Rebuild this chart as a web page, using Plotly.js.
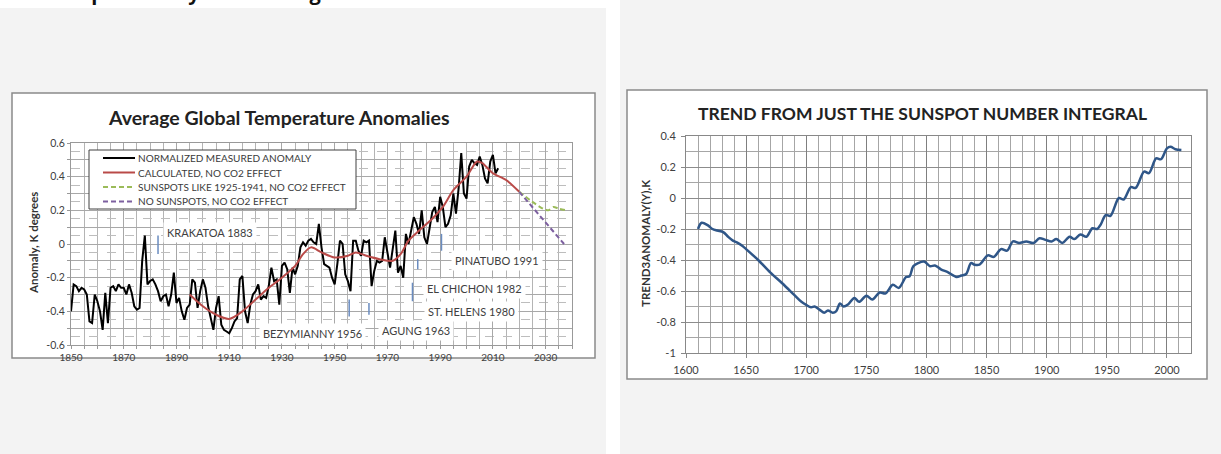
<!DOCTYPE html>
<html>
<head>
<meta charset="utf-8">
<script src="https://cdn.plot.ly/plotly-3.0.1.min.js"></script>
<style>html,body{margin:0;padding:0;background:#fff;}#chart{width:1221px;height:454px;}</style>
</head>
<body>
<div id="chart"></div>
<script>
// ---------- LEFT CHART DATA ----------
const measuredStartYear = 1850;
const measuredAnomaly = [
 -0.40,-0.24,-0.25,-0.28,-0.26,-0.27,-0.30,-0.46,-0.47,-0.30,
 -0.34,-0.40,-0.51,-0.29,-0.47,-0.26,-0.25,-0.28,-0.24,-0.26,
 -0.26,-0.30,-0.24,-0.29,-0.37,-0.39,-0.38,-0.10, 0.05,-0.24,
 -0.22,-0.21,-0.24,-0.28,-0.34,-0.31,-0.30,-0.37,-0.30,-0.17,
 -0.35,-0.32,-0.40,-0.45,-0.38,-0.36,-0.21,-0.23,-0.38,-0.28,
 -0.21,-0.26,-0.37,-0.44,-0.51,-0.38,-0.31,-0.48,-0.51,-0.52,
 -0.53,-0.50,-0.46,-0.44,-0.21,-0.19,-0.40,-0.47,-0.36,-0.30,
 -0.28,-0.24,-0.33,-0.31,-0.32,-0.25,-0.14,-0.22,-0.21,-0.36,
 -0.13,-0.11,-0.15,-0.29,-0.14,-0.18,-0.13,-0.02, 0.01,-0.01,
  0.02, 0.03, 0.01, 0.00, 0.12,-0.02,-0.12,-0.13,-0.14,-0.20,
 -0.24,-0.12, 0.02, 0.00,-0.18,-0.22,-0.28, 0.02, 0.02,-0.04,
 -0.07, 0.02, 0.01, 0.02,-0.25,-0.16,-0.10,-0.11,-0.10, 0.04,
 -0.06,-0.14,-0.03, 0.08,-0.17,-0.13,-0.20, 0.06, 0.00, 0.09,
  0.16, 0.12, 0.06, 0.20, 0.04, 0.00, 0.10, 0.19, 0.22, 0.13,
  0.28, 0.22, 0.10, 0.12, 0.17, 0.30, 0.18, 0.33, 0.54, 0.30,
  0.27, 0.46, 0.50, 0.48, 0.47, 0.52, 0.47, 0.39, 0.36, 0.49,
  0.53, 0.42, 0.45
];
const calcYears  = [1895,1900,1905,1910,1915,1920,1925,1930,1935,1938,1941,1945,1950,1955,1958,1962,1967,1972,1975,1978,1982,1987,1991,1995,2000,2004,2006,2010,2015,2020];
const calcValues = [-0.30,-0.37,-0.42,-0.445,-0.40,-0.33,-0.26,-0.20,-0.13,-0.06,-0.02,-0.05,-0.08,-0.07,-0.05,-0.07,-0.09,-0.10,-0.06,0.02,0.08,0.15,0.22,0.32,0.40,0.49,0.48,0.42,0.38,0.31];
const sunspotLikeYears  = [2020,2025,2029,2031,2033,2035,2038];
const sunspotLikeValues = [0.31,0.25,0.21,0.20,0.22,0.21,0.20];
const noSunspotYears  = [2020,2025,2030,2035,2037];
const noSunspotValues = [0.31,0.22,0.13,0.04,0.00];
const volcanoNames  = ["KRAKATOA 1883","BEZYMIANNY 1956","AGUNG 1963","ST. HELENS 1980","EL CHICHON 1982","PINATUBO 1991"];
const volcanoTickX  = [1883,1955.5,1963,1979.5,1981.5,1990.5];
const volcanoTickTop    = [0.05,-0.33,-0.35,-0.23,-0.09,0.06];
const volcanoTickBottom = [-0.06,-0.43,-0.42,-0.34,-0.15,-0.04];
const legendLabels = ["NORMALIZED MEASURED ANOMALY","CALCULATED, NO CO2 EFFECT","SUNSPOTS LIKE 1925-1941, NO CO2 EFFECT","NO SUNSPOTS, NO CO2 EFFECT"];
const leftXTicks = [1850,1870,1890,1910,1930,1950,1970,1990,2010,2030];
const leftYTickVals = [-0.6,-0.5,-0.4,-0.3,-0.2,-0.1,0,0.1,0.2,0.3,0.4,0.5,0.6];
const leftYTickText = ["-0.6","","-0.4","","-0.2","","0","","0.2","","0.4","","0.6"];

// ---------- RIGHT CHART DATA ----------
const trendYears = [1610,1613,1618,1622,1626,1631,1635,1639,1643,1647,1650,1660,1670,1680,1690,1696,1700,1704,1707,1711,1715,1718,1722,1725,1728,1731,1735,1740,1744,1750,1755,1761,1766,1772,1777,1783,1786,1789,1793,1798,1803,1807,1812,1818,1825,1829,1833,1837,1840,1844,1851,1856,1862,1867,1872,1877,1883,1889,1894,1899,1904,1908,1913,1919,1923,1928,1933,1938,1942,1945,1949,1953,1960,1964,1970,1974,1981,1985,1991,1995,2000,2003,2007,2012];
const trendValues = [-0.20,-0.16,-0.175,-0.20,-0.21,-0.22,-0.25,-0.275,-0.29,-0.31,-0.33,-0.40,-0.48,-0.55,-0.625,-0.67,-0.69,-0.705,-0.70,-0.72,-0.74,-0.725,-0.74,-0.73,-0.68,-0.70,-0.685,-0.645,-0.67,-0.63,-0.655,-0.61,-0.615,-0.56,-0.58,-0.51,-0.505,-0.44,-0.42,-0.41,-0.44,-0.435,-0.46,-0.48,-0.51,-0.50,-0.49,-0.42,-0.43,-0.43,-0.37,-0.38,-0.33,-0.34,-0.28,-0.29,-0.28,-0.29,-0.26,-0.27,-0.28,-0.265,-0.29,-0.25,-0.265,-0.235,-0.25,-0.195,-0.20,-0.17,-0.11,-0.115,0.0,-0.01,0.07,0.065,0.17,0.16,0.255,0.25,0.32,0.33,0.315,0.31];
const rightXTicks = [1600,1650,1700,1750,1800,1850,1900,1950,2000];
const rightYTickVals = [-1,-0.8,-0.6,-0.4,-0.2,0,0.2,0.4];
const rightYTickText = ["-1","-0.8","-0.6","-0.4","-0.2","0","0.2","0.4"];

// ---------- BUILD ----------
const W = 1221, H = 454;
const px = x => x / W;
const py = y => 1 - y / H;
const FONT = "Lato, 'Open Sans', sans-serif";

const measuredYears = measuredAnomaly.map((_, i) => measuredStartYear + i);

const volX = [], volY = [];
volcanoTickX.forEach((x, i) => { volX.push(x, x, null); volY.push(volcanoTickTop[i], volcanoTickBottom[i], null); });

const traces = [
  {x: volX, y: volY, mode: 'lines', line: {color: '#6a8cc0', width: 1.5}, xaxis: 'x', yaxis: 'y', hoverinfo: 'skip', showlegend: false},
  {x: measuredYears, y: measuredAnomaly, mode: 'lines', line: {color: '#000000', width: 2}, xaxis: 'x', yaxis: 'y', showlegend: false},
  {x: calcYears, y: calcValues, mode: 'lines', line: {color: '#b94a48', width: 2, shape: 'spline', smoothing: 0.8}, xaxis: 'x', yaxis: 'y', showlegend: false},
  {x: sunspotLikeYears, y: sunspotLikeValues, mode: 'lines', line: {color: '#9bbb59', width: 2, dash: '5px,3px', shape: 'spline', smoothing: 0.6}, xaxis: 'x', yaxis: 'y', showlegend: false},
  {x: noSunspotYears, y: noSunspotValues, mode: 'lines', line: {color: '#7d60a0', width: 2, dash: '5px,3px'}, xaxis: 'x', yaxis: 'y', showlegend: false},
  {x: trendYears, y: trendValues, mode: 'lines', line: {color: '#2f5688', width: 2.5, shape: 'spline', smoothing: 0.9}, xaxis: 'x2', yaxis: 'y2', showlegend: false}
];

const shapes = [
  {type: 'rect', xref: 'paper', yref: 'paper', x0: 0, x1: px(606), y0: py(454), y1: py(8), fillcolor: '#f3f3f3', line: {width: 0}, layer: 'below'},
  {type: 'rect', xref: 'paper', yref: 'paper', x0: px(620), x1: 1, y0: 0, y1: 1, fillcolor: '#f3f3f3', line: {width: 0}, layer: 'below'},
  {type: 'rect', xref: 'paper', yref: 'paper', x0: px(12), x1: px(595), y0: py(358), y1: py(93), fillcolor: '#ffffff', line: {color: '#8a8a8a', width: 1.5}, layer: 'below'},
  {type: 'rect', xref: 'paper', yref: 'paper', x0: px(627), x1: px(1207), y0: py(379), y1: py(90), fillcolor: '#ffffff', line: {color: '#8a8a8a', width: 1.5}, layer: 'below'},
  // legend box
  {type: 'rect', xref: 'paper', yref: 'paper', x0: px(89), x1: px(356), y0: py(209), y1: py(150), fillcolor: '#ffffff', line: {color: '#404040', width: 1}, layer: 'above'}
];
const legendStyles = [
  {color: '#000000', dash: 'solid'},
  {color: '#b94a48', dash: 'solid'},
  {color: '#9bbb59', dash: '5px,3px'},
  {color: '#7d60a0', dash: '5px,3px'}
];
const legendRowY = [158, 172.5, 187, 201.5];
const annotations = [];
legendLabels.forEach((lab, i) => {
  shapes.push({type: 'line', xref: 'paper', yref: 'paper', x0: px(103), x1: px(135), y0: py(legendRowY[i]), y1: py(legendRowY[i]), line: {color: legendStyles[i].color, width: 2, dash: legendStyles[i].dash}, layer: 'above'});
  annotations.push({xref: 'paper', yref: 'paper', x: px(136), y: py(legendRowY[i]), xanchor: 'left', yanchor: 'middle', text: lab, showarrow: false, font: {family: FONT, size: 10, color: '#3a3a3a'}});
});

// volcano labels
const volLabelPos = [[1902.9, 0.07],[1941.5,-0.534],[1980.8,-0.516],[2001.9,-0.40],[2003.2,-0.265],[2011.4,-0.097]];
volcanoNames.forEach((n, i) => {
  annotations.push({xref: 'x', yref: 'y', x: volLabelPos[i][0], y: volLabelPos[i][1], xanchor: 'center', yanchor: 'middle', text: n, showarrow: false, bgcolor: '#ffffff', borderpad: 3, font: {family: FONT, size: 11, color: '#404040'}});
});

// titles
const C = {xanchor: 'center', yanchor: 'middle', showarrow: false, xref: 'paper', yref: 'paper'};
annotations.push(Object.assign({x: px(279), y: py(117), text: '<b>Average Global Temperature Anomalies</b>', font: {family: FONT, size: 19.5, color: '#222'}}, C));
annotations.push(Object.assign({x: px(922), y: py(113), text: '<b>TREND FROM JUST THE SUNSPOT NUMBER INTEGRAL</b>', font: {family: FONT, size: 17.5, color: '#222'}}, C));
annotations.push(Object.assign({x: px(33), y: py(243), text: '<b>Anomaly, K degrees</b>', textangle: -90, font: {family: FONT, size: 11.5, color: '#333'}}, C));
annotations.push(Object.assign({x: px(646), y: py(244), text: '<b>TREND3ANOMALY(Y),K</b>', textangle: -90, font: {family: FONT, size: 11.5, color: '#333'}}, C));
// heading at the very top of the page, cut by the page edge as in the reference
annotations.push({xref: 'paper', yref: 'paper', x: px(42), y: py(8), xanchor: 'left', yanchor: 'bottom', text: '<b>Sunspot Theory of Warming</b>', showarrow: false, font: {family: "'Open Sans', sans-serif", size: 20, color: '#111'}});

const tickFont = {family: FONT, size: 10.5, color: '#404040'};
const layout = {
  width: W, height: H,
  margin: {l: 0, r: 0, t: 0, b: 0},
  paper_bgcolor: '#ffffff', plot_bgcolor: '#ffffff',
  showlegend: false,
  xaxis: {domain: [px(71), px(572)], range: [1850, 2040], anchor: 'y', tickvals: leftXTicks, ticks: 'outside', ticklen: 3, tickcolor: '#999',
          showgrid: true, gridcolor: '#a8a8a8', gridwidth: 1, zeroline: false, showline: true, linecolor: '#999', mirror: true,
          minor: {dtick: 5, tick0: 1850, showgrid: true, gridcolor: '#b4b4b4', gridwidth: 1, ticks: 'outside', ticklen: 3, tickcolor: '#999'},
          tickfont: {family: FONT, size: 10, color: '#404040'}, fixedrange: true},
  yaxis: {domain: [py(345), py(143)], range: [-0.6, 0.6], anchor: 'x', tickmode: 'array', tickvals: leftYTickVals, ticktext: leftYTickText, ticks: 'outside', ticklen: 3, tickcolor: '#999',
          showgrid: true, gridcolor: '#a8a8a8', gridwidth: 1, zeroline: false, showline: true, linecolor: '#999', mirror: true,
          minor: {dtick: 0.05, tick0: 0, showgrid: true, gridcolor: '#bdbdbd', griddash: 'dash', gridwidth: 1},
          tickfont: tickFont, fixedrange: true},
  xaxis2: {domain: [px(686), px(1191)], range: [1600, 2020], anchor: 'y2', tickvals: rightXTicks, ticks: 'outside', ticklen: 4, tickcolor: '#888', ticklabelstandoff: 3,
          showgrid: true, gridcolor: '#7f7f7f', gridwidth: 1, zeroline: false, showline: true, linecolor: '#888', mirror: true,
          minor: {dtick: 10, tick0: 1600, showgrid: true, gridcolor: '#a6a6a6', gridwidth: 1},
          tickfont: {family: FONT, size: 11, color: '#404040'}, fixedrange: true},
  yaxis2: {domain: [py(353), py(136)], range: [-1, 0.4], anchor: 'x2', tickmode: 'array', tickvals: rightYTickVals, ticktext: rightYTickText, ticks: 'outside', ticklen: 4, tickcolor: '#888', ticklabelstandoff: 3,
          showgrid: true, gridcolor: '#8c8c8c', gridwidth: 1, zeroline: false, showline: true, linecolor: '#888', mirror: true,
          minor: {dtick: 0.1, tick0: 0, showgrid: true, gridcolor: '#a6a6a6', gridwidth: 1},
          tickfont: {family: FONT, size: 11, color: '#404040'}, fixedrange: true},
  shapes: shapes,
  annotations: annotations
};

Plotly.newPlot('chart', traces, layout, {staticPlot: true, displayModeBar: false});
</script>
</body>
</html>
